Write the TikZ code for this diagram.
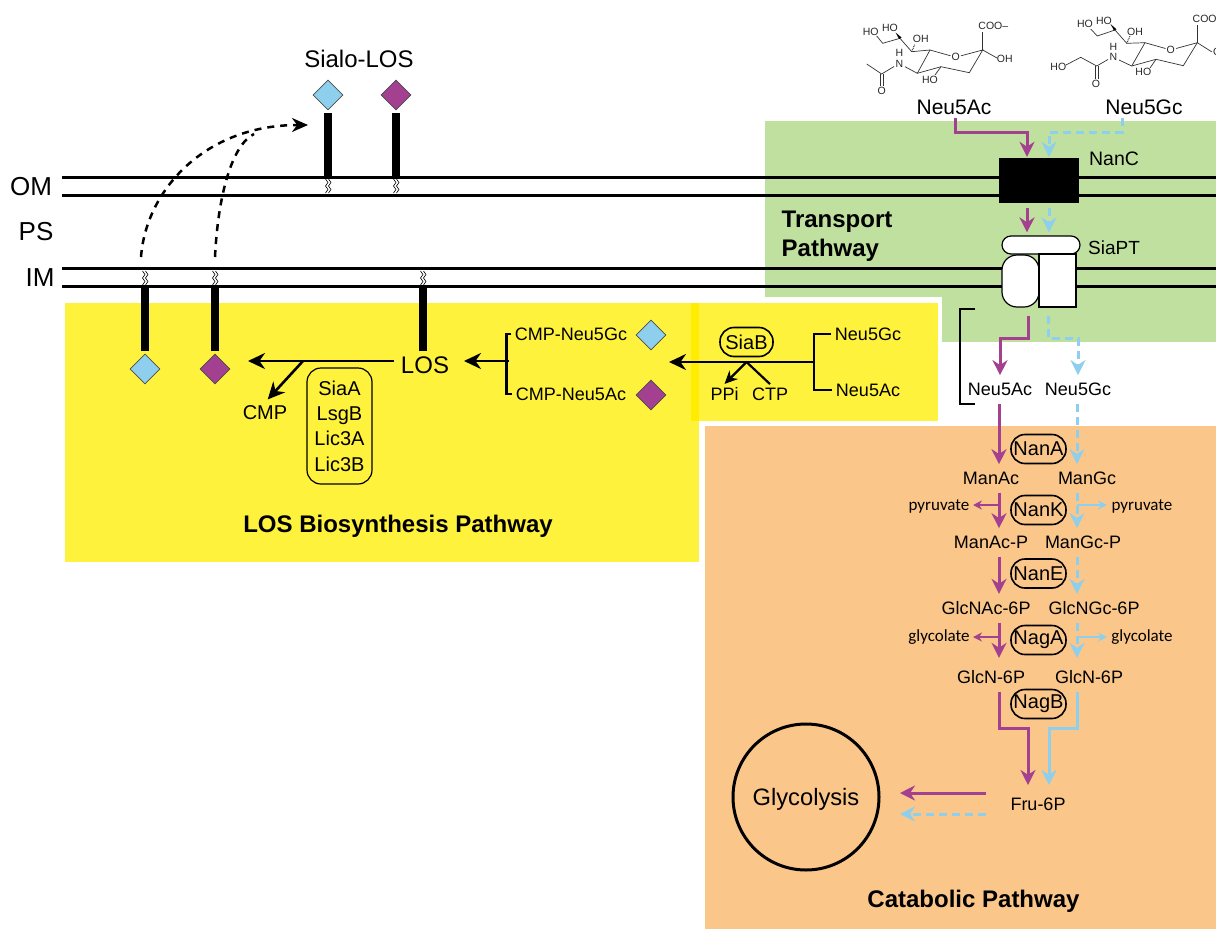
\documentclass[tikz,border=0pt]{standalone}
\usepackage{fontspec}
\setmainfont{Liberation Sans}
\newfontfamily\smallfont{Carlito}
\usetikzlibrary{arrows.meta,calc,positioning,shapes.geometric}
\definecolor{sialpur}{HTML}{A3408F}
\definecolor{sialblu}{HTML}{8DCFEC}
\definecolor{transgreen}{HTML}{BFE09F}
\definecolor{losyellow}{HTML}{FFF23C}
\definecolor{losstrip}{HTML}{FFEC00}
\definecolor{cataorange}{HTML}{FBC68A}
\tikzset{
  memline/.style={line width=3pt},
  stalk/.style={line width=8pt},
  sugar/.style={diamond,draw=black!70,line width=0.6pt,minimum size=30pt,inner sep=0pt,aspect=1},
  enzyme/.style={draw,line width=1.6pt,rounded corners=14pt,minimum width=55pt,minimum height=29pt,inner sep=0pt,font=\fontsize{20}{22}\selectfont},
  met/.style={font=\fontsize{18}{20}\selectfont},
  sidemet/.style={text depth=0pt,font=\smallfont\fontsize{17}{19}\selectfont},
  bigtxt/.style={font=\fontsize{24}{26}\selectfont},
  memtxt/.style={font=\fontsize{26}{28}\selectfont},
  pathtxt/.style={font=\bfseries\fontsize{24}{29}\selectfont,align=left},
  chem/.style={font=\fontsize{10.5}{12}\selectfont,inner sep=0pt,text=black!85},
  bond/.style={line width=0.7pt,black!80},
  mainarrow/.style={line width=2.6pt,-{Stealth[length=17pt,width=16pt]}},
  flipline/.style={line width=2.5pt,dash pattern=on 7pt off 6pt},
  bracket/.style={line width=2.2pt},
  purflow/.style={sialpur,line width=3pt,-{Stealth[length=15pt,width=15pt]},shorten <=5pt,shorten >=4pt},
  blusolid/.style={sialblu,line width=3pt,-{Stealth[length=15pt,width=15pt]},shorten <=5pt,shorten >=4pt},
  bluflow/.style={blusolid,dash pattern=on 8pt off 5pt},
  sidepur/.style={sialpur,line width=2pt,-{Stealth[length=9pt,width=9pt]}},
  sideblu/.style={sialblu,line width=2pt,-{Stealth[length=9pt,width=9pt]}},
  gapmark/.pic={
    \draw[line width=0.6pt] (-1.5,-7) -- (1,-3.5) -- (-1.5,0) -- (1,3.5) -- (-1.5,7);
    \draw[line width=0.6pt] (1.5,-7) -- (4,-3.5) -- (1.5,0) -- (4,3.5) -- (1.5,7);
  }
}
\begin{document}
\begin{tikzpicture}[x=1pt,y=-1pt]
  \path[use as bounding box,clip] (0,0) rectangle (1216,929);

  \fill[transgreen] (765,121) rectangle (1216,297);
  \fill[transgreen] (942,297) rectangle (1216,342);
  \fill[losyellow] (65,303) rectangle (699,562);
  \fill[losyellow] (699,303) rectangle (938,421);
  \fill[losstrip] (691,303) rectangle (699,421);
  \fill[cataorange] (705,426) rectangle (1216,929);

  \coordinate (omtop) at (62,177);
  \coordinate (ombot) at (62,195);
  \coordinate (imtop) at (62,268);
  \coordinate (imbot) at (62,286);
  \coordinate (edge) at (1216,0);
  \draw[memline] (omtop) -- (omtop -| edge);
  \draw[memline] (ombot) -- (ombot -| edge);
  \draw[memline] (imtop) -- (imtop -| edge);
  \draw[memline] (imbot) -- (imbot -| edge);
  \node[memtxt] (om) at (31,187) {OM};
  \node[memtxt] (ps) at (36,232) {PS};
  \node[memtxt] (im) at (40,278) {IM};

  \node[bigtxt] (sialolos) at (359,59) {Sialo-LOS};
  \node[sugar,fill=sialblu] (sialoblu) at (328,95) {};
  \node[sugar,fill=sialpur] (sialopur) at (396,95) {};
  \draw[stalk,shorten <=3pt] (sialoblu.south) -- (sialoblu |- omtop);
  \draw[stalk,shorten <=3pt] (sialopur.south) -- (sialopur |- omtop);
  \pic at (327,186) {gapmark};
  \pic at (395,186) {gapmark};

  \node[sugar,fill=sialblu] (innerblu) at (145,369) {};
  \node[sugar,fill=sialpur] (innerpur) at (215,369) {};
  \coordinate (losstalk) at (423,351);
  \draw[stalk,shorten <=3pt] (innerblu.north) -- (innerblu |- imbot);
  \draw[stalk,shorten <=3pt] (innerpur.north) -- (innerpur |- imbot);
  \draw[stalk] (losstalk) -- (losstalk |- imbot);
  \pic at (144,278) {gapmark};
  \pic at (214,278) {gapmark};
  \pic at (422,278) {gapmark};

  \coordinate (flipone) at (141,257);
  \coordinate (fliptwo) at (215,257);
  \coordinate (flipjoin) at (254,134);
  \coordinate (fliptip) at (308,125);
  \draw[flipline,-{Stealth[length=16pt,width=14pt]}] (flipone) .. controls (146,190) and (205,125) .. (fliptip);
  \draw[flipline] (fliptwo) .. controls (218,195) and (232,145) .. (flipjoin);

  \node[font=\fontsize{24}{26}\selectfont] (los) at (425,365) {LOS};
  \coordinate (losarrowend) at (248,361);
  \draw[mainarrow,shorten <=3pt] (los.west |- losarrowend) -- (losarrowend);
  \coordinate (cmpbranch) at (303,361);
  \node[font=\fontsize{20}{22}\selectfont] (cmp) at (265,413) {CMP};
  \draw[mainarrow,shorten >=4pt] (cmpbranch) -- (cmp.north);
  \node[draw,line width=1.2pt,rounded corners=14pt,minimum width=65pt,minimum height=116pt,inner sep=0pt,align=center,font=\fontsize{20}{25.3}\selectfont] (lic) at (339.5,426) {SiaA\\LsgB\\Lic3A\\Lic3B};
  \node[pathtxt] (lospath) at (398,526) {LOS Biosynthesis Pathway};

  \node[met] (cmpgc) at (571,334) {CMP-Neu5Gc};
  \node[met] (cmpac) at (571,394) {CMP-Neu5Ac};
  \node[sugar,fill=sialblu] (cmpblu) at (651,335) {};
  \node[sugar,fill=sialpur] (cmppur) at (651,395) {};
  \draw[bracket] (cmpgc.west) -- ++(-5,0) -- ++(0,60) -- (cmpac.west);
  \coordinate (cmpjoin) at (509,361);
  \coordinate (lostip) at (464,361);
  \draw[mainarrow] (cmpjoin) -- (lostip);

  \node[met] (gcin) at (868,334) {Neu5Gc};
  \node[met] (acin) at (868,390) {Neu5Ac};
  \coordinate (siajoin) at (814,362);
  \coordinate (siatip) at (669,362);
  \draw[bracket] (gcin.west) -- (siajoin |- gcin) -- (siajoin |- acin) -- (acin.west);
  \draw[mainarrow] (siajoin) -- (siatip);
  \node[enzyme,minimum width=53pt] (siab) at (746.5,342) {SiaB};
  \node[met] (ppi) at (724.5,394) {PPi};
  \node[met] (ctp) at (770,394) {CTP};
  \coordinate (ppibranch) at (746.5,362);
  \draw[line width=2.2pt,-{Stealth[length=13pt,width=12pt]}] (ppibranch) -- (ppi.north);
  \draw[line width=2.2pt] (ppibranch) -- (ctp.north);

  \node[pathtxt] (transpath) at (837,236.5) {Transport\\Pathway};
  \node[fill=black,minimum width=80pt,minimum height=45pt,inner sep=0pt] (nanc) at (1039,180.5) {};
  \node[font=\fontsize{19.5}{22}\selectfont] (nanctxt) at (1114,159) {NanC};
  \node[draw,line width=1.2pt,fill=white,rounded corners=9pt,minimum width=78pt,minimum height=18pt,inner sep=0pt] (siapttop) at (1041,245) {};
  \node[draw,line width=1.2pt,fill=white,rounded corners=15pt,minimum width=37pt,minimum height=52pt,inner sep=0pt] (siaptleft) at (1020.5,281) {};
  \node[draw,line width=1.2pt,fill=white,minimum width=37pt,minimum height=53pt,inner sep=0pt] (siaptright) at (1057.5,280.5) {};
  \node[font=\fontsize{19}{22}\selectfont] (siapttxt) at (1114,248) {SiaPT};

  \node[font=\fontsize{21}{23}\selectfont] (neuacout) at (954,107) {Neu5Ac};
  \node[font=\fontsize{21}{23}\selectfont] (neugcout) at (1144,107) {Neu5Gc};
  \coordinate (acstart) at (955,118);
  \coordinate (gcstart) at (1122,118);
  \coordinate (acport) at (1027,132);
  \coordinate (gcport) at (1049,132);
  \coordinate (acdrop) at (1028,338);
  \coordinate (gcdrop) at (1048,338);
  \coordinate (purx) at (999,338);
  \coordinate (blux) at (1077,338);
  \draw[purflow,shorten <=0pt,shorten >=1pt] (acstart) |- (acport) -- (acport |- nanc.north);
  \draw[bluflow,shorten <=0pt,shorten >=1pt] (gcstart) |- (gcport) -- (gcport |- nanc.north);
  \draw[purflow,shorten >=3pt] (acport |- nanc.south) -- (acport |- siapttop.north);
  \draw[bluflow,shorten >=3pt] (gcport |- nanc.south) -- (gcport |- siapttop.north);

  \node[met] (neuacpp) at (1000,389) {Neu5Ac};
  \node[met] (neugcpp) at (1078,389) {Neu5Gc};
  \draw[purflow,shorten <=8pt,shorten >=4pt] (acdrop |- siaptleft.south) -- (acdrop) -| (neuacpp.north);
  \draw[bluflow,shorten <=8pt,shorten >=4pt] (gcdrop |- siaptleft.south) -- (gcdrop) -| (neugcpp.north);
  \coordinate (brackettop) at (975,309);
  \coordinate (bracketbot) at (975,404);
  \draw[bracket] (brackettop) -- ++(-15,0) -- ++(0,95) -- (bracketbot);

  \node[met] (manac) at (991,478) {ManAc};
  \node[met] (mangc) at (1087,478) {ManGc};
  \node[met] (manacp) at (991,542) {ManAc-P};
  \node[met] (mangcp) at (1083,542) {ManGc-P};
  \node[met] (glcnac) at (986,608) {GlcNAc-6P};
  \node[met] (glcngc) at (1094,608) {GlcNGc-6P};
  \node[met] (glcnacn) at (991,677) {GlcN-6P};
  \node[met] (glcngcn) at (1089,677) {GlcN-6P};
  \node[enzyme] (nana) at (1038.5,449) {NanA};
  \node[enzyme] (nank) at (1038.5,510) {NanK};
  \node[enzyme] (nane) at (1038.5,573.5) {NanE};
  \node[enzyme] (naga) at (1038.5,640) {NagA};
  \node[enzyme] (nagb) at (1038.5,704) {NagB};

  \draw[purflow] (neuacpp.south -| purx) -- (manac.north -| purx);
  \draw[bluflow] (neugcpp.south -| blux) -- (mangc.north -| blux);
  \draw[purflow] (manac.south -| purx) -- (manacp.north -| purx);
  \draw[bluflow] (mangc.south -| blux) -- (mangcp.north -| blux);
  \draw[purflow] (manacp.south -| purx) -- (glcnac.north -| purx);
  \draw[bluflow] (mangcp.south -| blux) -- (glcngc.north -| blux);
  \draw[purflow,shorten >=9pt] (glcnac.south -| purx) -- (glcnacn.north -| purx);
  \draw[bluflow,shorten >=9pt] (glcngc.south -| blux) -- (glcngcn.north -| blux);

  \node[sidemet] (pyrl) at (939,505) {pyruvate};
  \node[sidemet] (pyrr) at (1142,505) {pyruvate};
  \node[sidemet] (glyl) at (939,636) {glycolate};
  \node[sidemet] (glyr) at (1142,636) {glycolate};
  \coordinate (pyrpur) at (999,505);
  \coordinate (pyrblu) at (1077,505);
  \coordinate (glypur) at (999,637);
  \coordinate (glyblu) at (1077,637);
  \coordinate (pyrptip) at (973,505);
  \coordinate (pyrbtip) at (1107,505);
  \coordinate (glyptip) at (973,637);
  \coordinate (glybtip) at (1107,637);
  \draw[sidepur] (pyrpur) -- (pyrptip);
  \draw[sideblu] (pyrblu) -- (pyrbtip);
  \draw[sidepur] (glypur) -- (glyptip);
  \draw[sideblu] (glyblu) -- (glybtip);

  \node[met] (fru) at (1038,804) {Fru-6P};
  \coordinate (frupur) at (1028,785);
  \coordinate (frublu) at (1049,785);
  \draw[purflow,shorten >=0pt] (purx |- glcnacn.south) -- (purx |- 0,728) -- (frupur |- 0,728) -- (frupur);
  \draw[blusolid,shorten >=0pt] (blux |- glcngcn.south) -- (blux |- 0,728) -- (frublu |- 0,728) -- (frublu);
  \node[circle,draw,line width=3pt,minimum size=146pt,inner sep=0pt,text depth=0pt,font=\fontsize{23.7}{26}\selectfont] (glycolysis) at (806,797) {Glycolysis};
  \coordinate (frutopur) at (986,793);
  \coordinate (frutoblu) at (986,814);
  \coordinate (glypurtip) at (900,793);
  \coordinate (glyblutip) at (900,814);
  \draw[purflow,shorten <=0pt,shorten >=0pt] (frutopur) -- (glypurtip);
  \draw[bluflow,shorten <=0pt,shorten >=0pt] (frutoblu) -- (glyblutip);
  \node[pathtxt] (catapath) at (973.5,901) {Catabolic Pathway};

  \node[chem] (ac1) at (870.7,31.7) {HO};
  \node[chem] (ac2) at (890,28.3) {HO};
  \node[chem] (ac3) at (920.7,39.3) {OH};
  \node[chem] (ac4) at (993.3,26) {COO--};
  \node[chem] (ac5) at (1004.7,59.3) {OH};
  \node[chem] (ac6) at (955.7,57.3) {O};
  \node[chem] (ac7) at (930,80) {HO};
  \node[chem] (ac8) at (899.3,53.3) {H};
  \node[chem] (ac9) at (899.3,64) {N};
  \node[chem] (ac10) at (881.7,90.7) {O};
  \draw[bond] (917.3,73.3) -- (930,50) -- (950.5,55.8);
  \draw[bond] (961,55.8) -- (982.7,50) -- (969.3,72.7) -- (941,66.7) -- (917.3,73.3) -- (905,66.7);
  \draw[bond] (930,50) -- (911.7,51.7) -- (900,38.3) -- (882.7,43.3) -- (876.7,36);
  \draw[bond,line width=1.1pt,dash pattern=on 0.8pt off 0.9pt] (911.7,51.7) -- (915,44);
  \fill[black] (899,38.8) -- (901.5,37.5) -- (895.5,32.5) -- cycle;
  \draw[bond] (982.7,50) -- (982.7,32);
  \draw[bond] (982.7,50) -- (997,58);
  \draw[bond] (941,66.7) -- (935,75);
  \draw[bond] (894,66.5) -- (881.7,74) -- (866.7,64);
  \draw[bond] (880.7,74) -- (880.7,86);
  \draw[bond] (883,74) -- (883,86);

  \node[chem] (gc1) at (1085,24.3) {HO};
  \node[chem] (gc2) at (1104,20.7) {HO};
  \node[chem] (gc3) at (1135,31.7) {OH};
  \node[chem,anchor=west] (gc4) at (1192.5,19.3) {COO};
  \node[chem,anchor=west] (gc5) at (1213,52) {OH};
  \node[chem] (gc6) at (1170.7,50) {O};
  \node[chem] (gc7) at (1143.3,72.3) {HO};
  \node[chem] (gc8) at (1113.3,46.7) {H};
  \node[chem] (gc9) at (1113.3,57.3) {N};
  \node[chem] (gc10) at (1096,84) {O};
  \node[chem] (gc11) at (1058.3,66.7) {HO};
  \draw[bond] (1131.7,66) -- (1145,42.7) -- (1165.5,48.5);
  \draw[bond] (1176,48.5) -- (1197.3,42.7) -- (1183.3,65.7) -- (1156,59.3) -- (1131.7,66) -- (1119,60);
  \draw[bond] (1145,42.7) -- (1126.7,43.3) -- (1115,30) -- (1097.3,36) -- (1090.7,29);
  \draw[bond,line width=1.1pt,dash pattern=on 0.8pt off 0.9pt] (1126.7,43.3) -- (1130,36);
  \fill[black] (1114,30.5) -- (1116.5,29.3) -- (1110.5,24) -- cycle;
  \draw[bond] (1197.3,42.7) -- (1197.3,25);
  \draw[bond] (1197.3,42.7) -- (1212,52);
  \draw[bond] (1156,59.3) -- (1150,68);
  \draw[bond] (1108,59.5) -- (1096.7,66) -- (1080.7,57.3) -- (1066,65);
  \draw[bond] (1095.7,66) -- (1095.7,79);
  \draw[bond] (1098,66) -- (1098,79);
\end{tikzpicture}
\end{document}
